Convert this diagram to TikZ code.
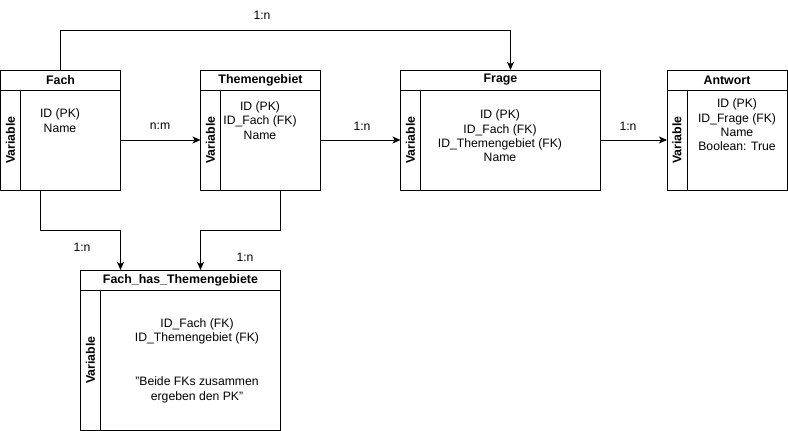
\documentclass[tikz,border=0pt]{standalone}
\usepackage{fontspec}
\setmainfont{Liberation Sans}[Ligatures=NoCommon]
\usetikzlibrary{arrows.meta,calc}
\newcommand\ertable[6]{%
  \node[tbl, minimum width=#4pt, minimum height=#5pt] (#1) at (#2,#3) {};
  \draw ($(#1.north west)+(0,20)$) -- ($(#1.north east)+(0,20)$);
  \draw ($(#1.north west)+(20,20)$) -- ($(#1.south west)+(20,0)$);
  \node[hdr] (#1title) at ($(#1.north)+(0,10)$) {#6};
  \node[hdr, rotate=90] (#1var) at ($(#1.west)+(10,10)$) {Variable};
}
\begin{document}
\begin{tikzpicture}[x=1pt,y=-1pt,line width=1pt,
  tbl/.style={draw, inner sep=0pt, outer sep=0pt, line width=1pt, fill=white},
  hdr/.style={inner sep=0pt, font=\fontsize{12.4}{14.4}\selectfont\bfseries},
  body/.style={inner sep=0pt, align=center, font=\fontsize{12.2}{14.4}\selectfont},
  lbl/.style={inner sep=0pt, font=\fontsize{12.2}{14.4}\selectfont},
  conn/.style={draw, line width=1pt, -{Stealth[length=8pt,width=7pt,inset=2pt]}}]
\useasboundingbox (0,0) rectangle (788,431);
\fill[white] (0,0) rectangle (788,431);

\ertable{fach}{60.5}{130}{120}{120}{Fach}
\ertable{them}{260.5}{130}{120}{120}{Themengebiet}
\ertable{frage}{500.5}{130}{200}{120}{Frage}
\ertable{antw}{727}{130}{120}{120}{Antwort}
\ertable{fht}{180.5}{350}{200}{160}{Fach\_has\_Themengebiete}

\node[body] (fachbody) at (60,120.5) {ID (PK)\\Name};
\node[body] (thembody) at (260,120.5) {ID (PK)\\ID\_Fach (FK)\\Name};
\node[body] (fragebody) at (500,136) {ID (PK)\\ID\_Fach (FK)\\ID\_Themengebiet (FK)\\Name};
\node[body] (antwbody) at (737,125) {ID (PK)\\ID\_Frage (FK)\\Name\\Boolean: True};
\node[body] (fhtbody) at (197,331.5) {ID\_Fach (FK)\\ID\_Themengebiet (FK)};
\node[body] (fhtnote) at (197,390) {\char34 Beide FKs zusammen\\ergeben den PK\char34};

\draw[conn] ($(fach.east)+(0,10)$) -- ($(them.west)+(0,10)$);
\draw[conn] ($(them.east)+(0,10)$) -- ($(frage.west)+(0,10)$);
\draw[conn] ($(frage.east)+(0,10)$) -- ($(antw.west)+(0,10)$);
\draw[conn] (fach.north) -- ++(0,-40) -| ($(frage.north)+(10,0)$);
\draw[conn] ($(fach.south)+(-20,0)$) -- ++(0,40) -| ($(fht.north)+(-60,0)$);
\draw[conn] ($(them.south)+(20,0)$) -- ++(0,40) -| ($(fht.north)+(20,0)$);

\node[lbl] (l1) at (160,126) {n:m};
\node[lbl] (l2) at (362,126) {1:n};
\node[lbl] (l3) at (628,126) {1:n};
\node[lbl] (l4) at (262,15) {1:n};
\node[lbl] (l5) at (82,247) {1:n};
\node[lbl] (l6) at (245,257) {1:n};
\end{tikzpicture}
\end{document}
